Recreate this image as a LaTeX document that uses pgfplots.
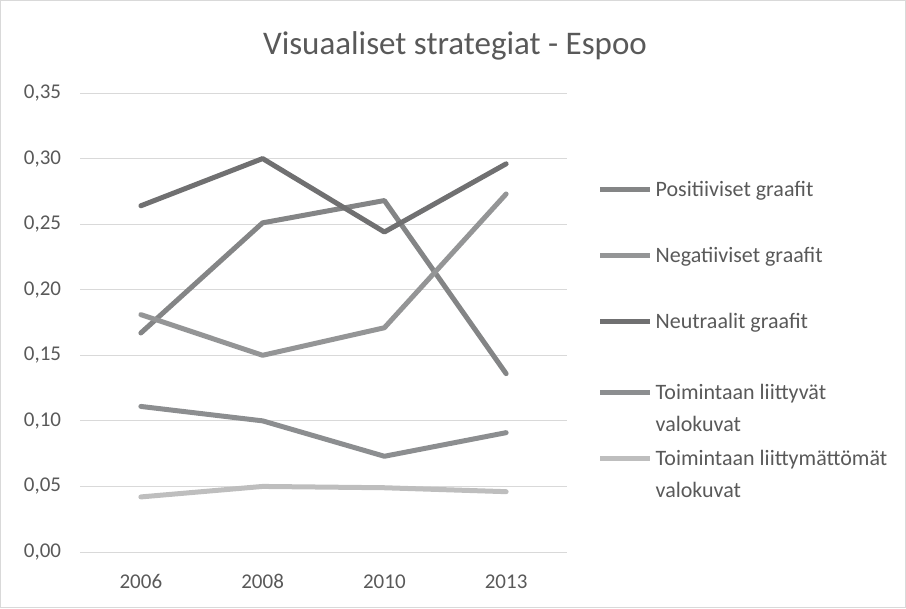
\documentclass[border=0pt]{standalone}
\usepackage{fontspec}
\setmainfont{Carlito}
\usepackage{pgfplots}
\pgfplotsset{compat=1.18}
\definecolor{gridgray}{HTML}{D9D9D9}
\definecolor{txtgray}{HTML}{595959}
\definecolor{posc}{HTML}{848586}
\definecolor{negc}{HTML}{949596}
\definecolor{neuc}{HTML}{707071}
\definecolor{tlc}{HTML}{8C8E90}
\definecolor{tlmc}{HTML}{BEBEBE}

% legend rows: tall strut above the baseline so rows step by about 50pt
\newcommand{\oneline}[1]{\rule{0pt}{44pt}#1}
\newcommand{\twoline}[3]{\rule{0pt}{#1}\parbox[t]{9cm}{\fontsize{16.5}{24}\selectfont #2\\#3}}

\begin{document}
\begin{tikzpicture}
\path[use as bounding box] (0,0) rectangle (679.5pt,456pt);
\draw[gridgray, line width=0.75pt] (0.375pt,0.375pt) rectangle (679.125pt,455.625pt);
\begin{axis}[
    at={(60pt,42pt)}, anchor=south west,
    scale only axis, width=365.25pt, height=344.25pt,
    xmin=-0.5, xmax=3.5, ymin=0, ymax=0.35,
    xtick={0,1,2,3}, xticklabels={2006,2008,2010,2013},
    ytick={0,0.05,0.10,0.15,0.20,0.25,0.30,0.35},
    yticklabels={{0,00},{0,05},{0,10},{0,15},{0,20},{0,25},{0,30},{0,35}},
    axis line style={draw=none},
    major tick length=0pt,
    ymajorgrids,
    major grid style={gridgray, line width=0.75pt},
    tick label style={font=\fontsize{15.75}{19}\selectfont, text=txtgray, inner sep=0pt},
    xticklabel style={anchor=base, yshift=-27pt},
    yticklabel style={anchor=east, xshift=-14pt},
    title={Visuaaliset strategiat - Espoo},
    title style={at={(axis description cs:0.77,1.0675)}, anchor=base,
        font=\fontsize{24.75}{30}\selectfont, text=txtgray, inner sep=0pt},
    legend style={at={(axis description cs:1.0636,0.909)}, anchor=north west,
        draw=none, fill=none, inner sep=0pt, outer sep=0pt,
        row sep=0pt, column sep=0pt,
        font=\fontsize{16.5}{24}\selectfont, text=txtgray,
        cells={anchor=base west, inner xsep=1pt}},
    legend image code/.code={\draw[#1, line cap=butt] (0pt,5.25pt) -- (37.5pt,5.25pt);},
    every axis plot/.append style={line width=3.75pt, line join=round, line cap=round, mark=none},
]
\addplot[posc] coordinates {(0,0.167) (1,0.251) (2,0.268) (3,0.136)};
\addlegendentry{\oneline{Positiiviset graafit}}
\addplot[negc] coordinates {(0,0.181) (1,0.150) (2,0.171) (3,0.273)};
\addlegendentry{\oneline{Negatiiviset graafit}}
\addplot[neuc] coordinates {(0,0.264) (1,0.300) (2,0.244) (3,0.296)};
\addlegendentry{\oneline{Neutraalit graafit}}
\addplot[tlc] coordinates {(0,0.111) (1,0.100) (2,0.073) (3,0.091)};
\addlegendentry{\twoline{48pt}{Toimintaan liittyvät}{valokuvat}}
\addplot[tlmc] coordinates {(0,0.042) (1,0.050) (2,0.049) (3,0.046)};
\addlegendentry{\twoline{44pt}{Toimintaan liittymättömät}{valokuvat}}
\end{axis}
\end{tikzpicture}
\end{document}
